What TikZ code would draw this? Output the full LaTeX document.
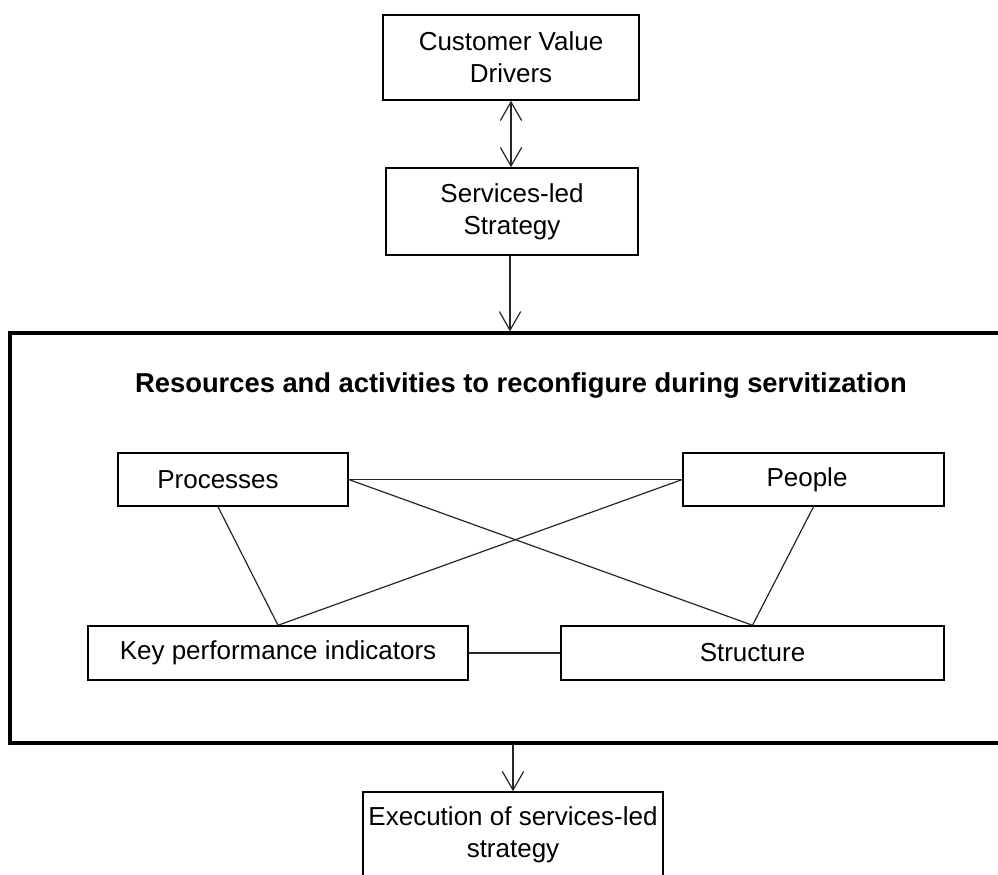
\documentclass[tikz,border=0pt]{standalone}
\usepackage{fontspec}
\setmainfont{Liberation Sans}
\usetikzlibrary{arrows.meta}
\begin{document}
\begin{tikzpicture}[x=0.75pt,y=-0.75pt,
  every node/.style={font=\fontsize{19.5}{24}\selectfont},
  box/.style={draw=black,line width=1.1pt,inner sep=0pt,align=center},
  frame/.style={draw=black,line width=2.4pt,inner sep=0pt},
  link/.style={draw=black!85,line width=0.9pt},
  barb/.tip={Straight Barb[length=14pt,width=16pt,line width=0.9pt]},
  flow/.style={draw=black!85,line width=0.9pt,-barb},
  label/.style={inner sep=0pt,align=center}]
\useasboundingbox (0,0) rectangle (998,874);
\clip (0,0) rectangle (998,874);

% upper chain
\node[box,minimum width=256*0.75pt,minimum height=85*0.75pt] (cvd) at (511,57.5) {Customer Value\\Drivers};
\node[box,minimum width=252*0.75pt,minimum height=87*0.75pt] (sls) at (512,211.5) {Services-led\\Strategy};

% enclosing frame for the reconfigured elements
\node[frame,minimum width=1000*0.75pt,minimum height=410*0.75pt] (frame) at (510,538) {};
\node[label,font=\fontsize{20.5}{24}\selectfont\bfseries] (title) at (521,385) {Resources and activities to reconfigure during servitization};

% the four elements
\node[box,minimum width=230*0.75pt,minimum height=53*0.75pt] (proc) at (233,479.5) {};
\node[label] (proctext) at (218,479.5) {Processes};
\node[box,minimum width=261*0.75pt,minimum height=53*0.75pt] (people) at (813.5,479.5) {};
\node[label] (peopletext) at (807,479.5) {People};
\node[box,minimum width=380*0.75pt,minimum height=54*0.75pt] (kpi) at (278,653) {Key performance indicators};
\node[box,minimum width=383*0.75pt,minimum height=54*0.75pt] (struct) at (752.5,653) {Structure};

% outcome
\node[box,minimum width=300*0.75pt,minimum height=85*0.75pt] (exec) at (513,834.5) {Execution of services-led\\strategy};

% arrows
\draw[flow,barb-barb] (cvd.south) -- (cvd.south |- sls.north);
\draw[flow] (sls.south -| frame.north) coordinate (a1) -- (a1 |- frame.north);
\draw[flow] (exec.north |- frame.south) -- (exec.north);

% links between elements
\draw[link] (proc.east) -- (people.west);
\draw[link] (proc.east) -- (struct.north);
\draw[link] (kpi.north) -- (people.west);
\draw[link] (proctext |- proc.south) -- (kpi.north);
\draw[link] (people.south) -- (struct.north);
\draw[link] (kpi.east) -- (struct.west);
\end{tikzpicture}
\end{document}
